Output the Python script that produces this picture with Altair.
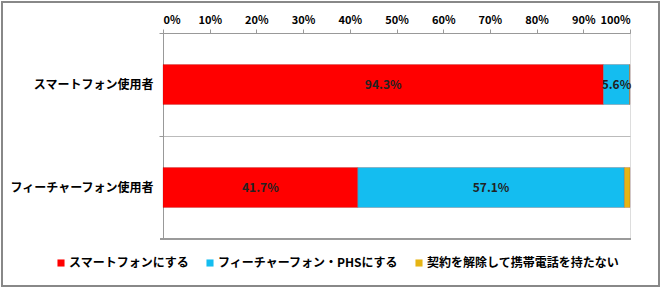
import altair as alt
import pandas as pd

groups = ["スマートフォン使用者", "スマートフォン使用者", "スマートフォン使用者",
          "フィーチャーフォン使用者", "フィーチャーフォン使用者", "フィーチャーフォン使用者"]
choices = ["スマートフォンにする", "フィーチャーフォン・PHSにする", "契約を解除して携帯電話を持たない"] * 2
values = [94.3, 5.6, 0.1, 41.7, 57.1, 1.2]
labels = ["94.3%", "5.6%", "", "41.7%", "57.1%", ""]
order = [0, 1, 2, 0, 1, 2]

choice_names = ["スマートフォンにする", "フィーチャーフォン・PHSにする", "契約を解除して携帯電話を持たない"]
colors = ["#FF0000", "#14BDF0", "#E6B514"]
group_names = ["スマートフォン使用者", "フィーチャーフォン使用者"]

df = pd.DataFrame({"group": groups, "choice": choices, "value": values,
                   "label": labels, "ord": order})

FONT = "Noto Sans CJK JP"

base = alt.Chart(df).transform_stack(
    stack="value", groupby=["group"], as_=["v0", "v1"],
    sort=[alt.SortField("ord", order="ascending")]
).transform_calculate(
    mid="(datum.v0 + datum.v1) / 2"
)

ysc = alt.Scale(domain=group_names, paddingInner=0, paddingOuter=0)

bars = base.mark_bar(size=40, stroke="#7a1010", strokeWidth=0.4, strokeOpacity=0.5).encode(
    y=alt.Y("group:N", scale=ysc, sort=group_names, title=None,
            axis=alt.Axis(labelFont=FONT, labelFontSize=12, labelFontWeight="bold",
                          labelColor="#000", labelPadding=6, ticks=True, tickSize=4,
                          tickColor="#999", domainColor="#999", bandPosition=0,
                          grid=True, gridColor="#bbb", gridWidth=1, labelLimit=200)),
    x=alt.X("v0:Q", scale=alt.Scale(domain=[0, 100]), title=None,
            axis=alt.Axis(orient="top", values=list(range(0, 101, 10)),
                          labelExpr="datum.value + '%'", labelFont=FONT,
                          labelFontSize=11, labelFontWeight="bold", labelColor="#000",
                          tickColor="#999", tickSize=4, domainColor="#999",
                          labelPadding=4, grid=False)),
    x2="v1:Q",
    color=alt.Color("choice:N", scale=alt.Scale(domain=choice_names, range=colors),
                    title=None,
                    legend=alt.Legend(orient="none", direction="horizontal",
                                      legendX=-108, legendY=224, columns=3,
                                      symbolType="square", symbolSize=50,
                                      symbolStrokeWidth=0, labelFont=FONT,
                                      labelFontSize=12, labelFontWeight="bold",
                                      labelColor="#000", columnPadding=14,
                                      labelOffset=2, labelLimit=300)),
)

text = base.mark_text(font=FONT, fontSize=12, fontWeight="bold", color="#222").encode(
    y=alt.Y("group:N", scale=ysc, sort=group_names),
    x=alt.X("mid:Q"),
    text="label:N",
)

bottom = alt.Chart(df).mark_rule(color="#999", strokeWidth=1).encode(
    x=alt.value(-3), x2=alt.value(468), y=alt.value(206)
)

border = alt.Chart(df).mark_rect(fill=None, stroke="#888", strokeWidth=1.5).encode(
    x=alt.value(-161), x2=alt.value(496), y=alt.value(-31), y2=alt.value(253)
)

chart = alt.layer(bars, text, bottom, border).properties(
    width=467, height=206,
    padding={"left": 163, "top": 33, "right": 32, "bottom": 50},
    autosize=alt.AutoSizeParams(type="none"),
).configure_view(stroke=None).configure(background="white")

chart.save("out.html", embed_options={"renderer": "svg", "actions": False})
